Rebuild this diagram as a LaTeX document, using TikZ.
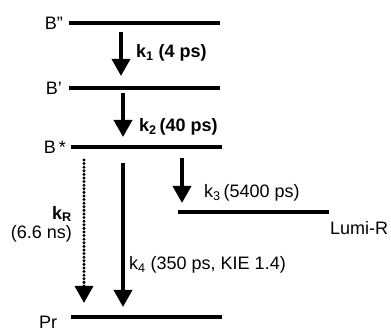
\documentclass[tikz,border=0pt]{standalone}
\usepackage{fontspec}
\setmainfont{Liberation Sans}
\usetikzlibrary{arrows.meta}
\tikzset{
  level/.style={line width=4.5pt},
  trans/.style={line width=3.5pt,-{Triangle[width=18pt 0 0,length=17pt 0 0]}},
  radtrans/.style={line width=3.3pt,line cap=round,dash pattern=on 0pt off 3.6pt,-{Triangle[width=18pt 0 0,length=17pt 0 0]}},
  lbl/.style={inner sep=0pt,font=\fontsize{18}{20}\selectfont},
  blbl/.style={lbl,font=\fontsize{18}{20}\selectfont\bfseries}
}
\begin{document}
\begin{tikzpicture}[x=1pt,y=-1pt]
\useasboundingbox (0,0) rectangle (391,328);
% level end points
\coordinate (Bpp1) at (69,23);  \coordinate (Bpp2) at (220,23);
\coordinate (Bp1) at (69,88);   \coordinate (Bp2) at (220,88);
\coordinate (Bs1) at (71,147);  \coordinate (Bs2) at (222,147);
\coordinate (L1) at (178,212);  \coordinate (L2) at (329,212);
\coordinate (P1) at (71,317);   \coordinate (P2) at (222,317);
\draw[level] (Bpp1) -- (Bpp2);
\draw[level] (Bp1) -- (Bp2);
\draw[level] (Bs1) -- (Bs2);
\draw[level] (L1) -- (L2);
\draw[level] (P1) -- (P2);
% arrow end points
\coordinate (a1s) at (121,32);  \coordinate (a1e) at (121,76);
\coordinate (a2s) at (123,93);  \coordinate (a2e) at (123,137);
\coordinate (a3s) at (182,158); \coordinate (a3e) at (182,203);
\coordinate (aRs) at (84,160);  \coordinate (aRe) at (84,303);
\coordinate (a4s) at (123,163); \coordinate (a4e) at (123,307);
\draw[trans] (a1s) -- (a1e);
\draw[trans] (a2s) -- (a2e);
\draw[trans] (a3s) -- (a3e);
\draw[radtrans] (aRs) -- (aRe);
\draw[trans] (a4s) -- (a4e);
% labels
\node[lbl,anchor=east] (tBpp) at (63,23) {B”};
\node[lbl,anchor=east] (tBp) at (62,88) {B’};
\node[lbl,anchor=east] (tBs) at (66,147) {B\,*};
\node[lbl,anchor=west] (tPr) at (39,322) {Pr};
\node[lbl,anchor=west] (tL) at (330,228) {Lumi-R};
\node[blbl,anchor=west] (t1) at (136,53) {k\textsubscript{1} (4 ps)};
\node[blbl,anchor=west] (t2) at (139,127) {k\textsubscript{2}\,(40 ps)};
\node[lbl,anchor=west] (t3) at (204,193) {k\textsubscript{3}\,(5400 ps)};
\node[blbl,anchor=east] (tR) at (72,214) {k\textsubscript{R}};
\node[lbl,anchor=east] (tRn) at (72,234) {(6.6 ns)};
\node[lbl,anchor=west] (t4) at (129,265) {k\textsubscript{4} (350 ps, KIE 1.4)};
\end{tikzpicture}
\end{document}
